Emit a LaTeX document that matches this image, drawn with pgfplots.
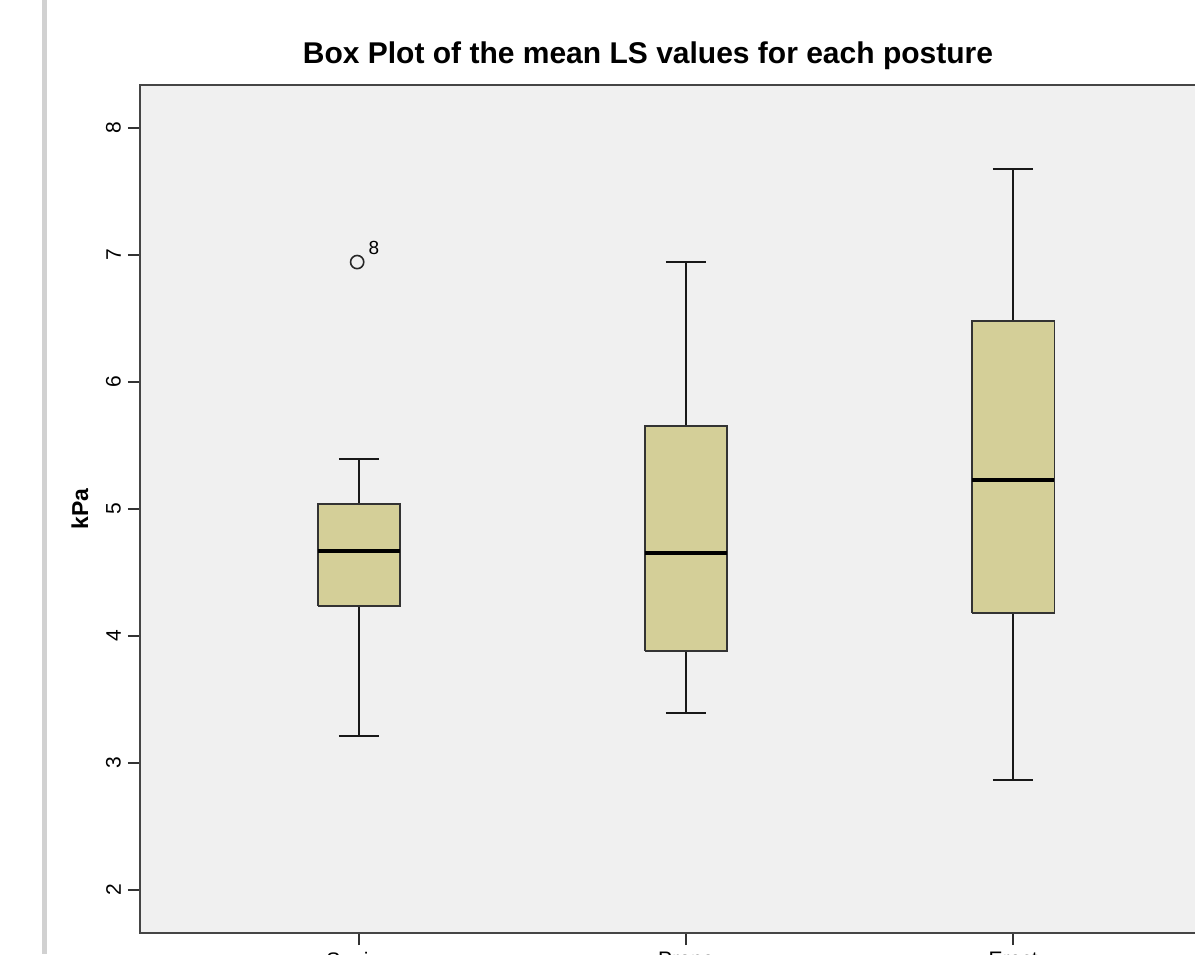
\documentclass[border=0pt]{standalone}
\usepackage{pgfplots}
\pgfplotsset{compat=1.18}
\usepackage{fontspec}
\setmainfont{Liberation Sans}
\definecolor{boxfill}{HTML}{D4CF98}
\definecolor{bgc}{HTML}{F0F0F0}
\definecolor{frame}{HTML}{454545}
\begin{document}
\begin{tikzpicture}
\useasboundingbox (0,0) rectangle (597.5pt,477pt);
\clip (0,0) rectangle (597.5pt,477pt);
\fill[white] (0,0) rectangle (597.5pt,477pt);
\fill[black!18] (21pt,0) rectangle (23.5pt,477pt);
\begin{axis}[
  at={(70pt,10.5pt)}, anchor=south west,
  scale only axis, width=545.5pt, height=424pt,
  xmin=-0.67, xmax=2.666, ymin=1.66, ymax=8.34,
  axis background/.style={fill=bgc},
  axis line style={draw=frame, line width=1.3pt},
  xtick={0,1,2}, xticklabels={Supine,Prone,Erect},
  ytick={2,3,4,5,6,7,8},
  tick align=outside, major tick length=6pt,
  tick style={draw=black!80, line width=0.9pt},
  xtick pos=bottom, ytick pos=left,
  /pgf/number format/assume math mode=true,
  yticklabel style={rotate=90, anchor=south, font=\fontsize{10.5}{12}\selectfont},
  xticklabel style={font=\fontsize{10.5}{12}\selectfont},
  ylabel={kPa},
  every axis y label/.style={at={(axis description cs:0,0.5)}, xshift=-30pt, rotate=90, anchor=center, font=\bfseries\fontsize{11.5}{13}\selectfont},
  title={Box Plot of the mean LS values for each posture},
  title style={at={(axis description cs:0.4656,1)}, anchor=center, yshift=8.5pt, font=\bfseries\fontsize{15}{17}\selectfont},
  whisk/.style={draw=black!90, line width=1.25pt, mark=none},
  bx/.style={draw=black!80, line width=0.9pt, fill=boxfill, mark=none},
  med/.style={draw=black, line width=1.6pt, mark=none},
]
% Supine (x=0): lw 3.213, q1 4.236, med 4.669, q3 5.039, uw 5.394
\addplot[whisk] coordinates {(0,3.213) (0,4.236)};
\addplot[whisk] coordinates {(0,5.039) (0,5.394)};
\addplot[whisk] coordinates {(-0.062,3.213) (0.062,3.213)};
\addplot[whisk] coordinates {(-0.062,5.394) (0.062,5.394)};
\addplot[bx] coordinates {(-0.126,4.236) (0.126,4.236) (0.126,5.039) (-0.126,5.039) (-0.126,4.236)};
\addplot[med] coordinates {(-0.126,4.669) (0.126,4.669)};
% Prone (x=1): lw 3.394, q1 3.882, med 4.654, q3 5.654, uw 6.945
\addplot[whisk] coordinates {(1,3.394) (1,3.882)};
\addplot[whisk] coordinates {(1,5.654) (1,6.945)};
\addplot[whisk] coordinates {(0.938,3.394) (1.062,3.394)};
\addplot[whisk] coordinates {(0.938,6.945) (1.062,6.945)};
\addplot[bx] coordinates {(0.874,3.882) (1.126,3.882) (1.126,5.654) (0.874,5.654) (0.874,3.882)};
\addplot[med] coordinates {(0.874,4.654) (1.126,4.654)};
% Erect (x=2): lw 2.866, q1 4.181, med 5.228, q3 6.480, uw 7.677
\addplot[whisk] coordinates {(2,2.866) (2,4.181)};
\addplot[whisk] coordinates {(2,6.480) (2,7.677)};
\addplot[whisk] coordinates {(1.938,2.866) (2.062,2.866)};
\addplot[whisk] coordinates {(1.938,7.677) (2.062,7.677)};
\addplot[bx] coordinates {(1.874,4.181) (2.126,4.181) (2.126,6.480) (1.874,6.480) (1.874,4.181)};
\addplot[med] coordinates {(1.874,5.228) (2.126,5.228)};
% outlier
\addplot[only marks, mark=o, mark size=3.3pt, mark options={draw=black!85, line width=0.8pt}] coordinates {(-0.006,6.945)};
\node[font=\fontsize{9.5}{10}\selectfont] at (axis cs:0.045,7.06) {8};
\end{axis}
\end{tikzpicture}
\end{document}
